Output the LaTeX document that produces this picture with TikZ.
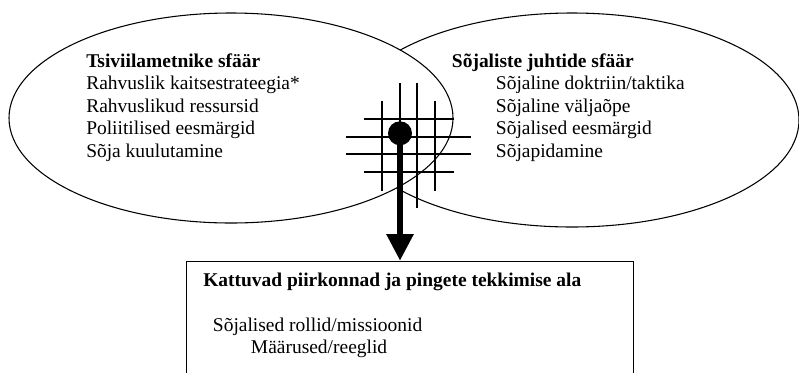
\documentclass[tikz,border=0pt]{standalone}
\usepackage{fontspec}
\setmainfont{Liberation Serif}
\usetikzlibrary{arrows.meta, positioning, shapes.geometric}

\begin{document}
\begin{tikzpicture}[
        x=0.75pt, y=-0.75pt,
        every node/.style={inner sep=0pt, font=\fontsize{14.6}{18}\selectfont},
        sphere/.style={draw, ellipse, line width=0.8pt},
        line/.style={anchor=base west},
        head/.style={anchor=base west, font=\fontsize{14.6}{18}\selectfont\bfseries},
        hatch/.style={line width=1pt},
        >={Triangle[length=20pt, width=19.5pt]} % Big solid head for the down arrow
    ]
        \useasboundingbox (0,0) rectangle (799,372);
        \clip (0,0) rectangle (799,372);

        % Define the two spheres (right one first, the left one is laid over it)
        \node (mil) [sphere, minimum width=340.5pt, minimum height=160.5pt] at (572,120) {};
        \node (civ) [sphere, fill=white, minimum width=333pt, minimum height=157.5pt] at (231,118) {};

        % Civilian sphere text
        \node (civt) [head] at (86,67) {Tsiviilametnike sfäär};
        \foreach \txt [count=\k] in {{Rahvuslik kaitsestrateegia*}, {Rahvuslikud ressursid}, {Poliitilised eesmärgid}, {Sõja kuulutamine}}
            \node (civ\k) [line] at (86,67+22.5*\k) {\txt};

        % Military sphere text
        \node (milt) [head] at (451.7,67) {Sõjaliste juhtide sfäär};
        \foreach \txt [count=\k] in {{Sõjaline doktriin/taktika}, {Sõjaline väljaõpe}, {Sõjalised eesmärgid}, {Sõjapidamine}}
            \node (mil\k) [line] at (495.7,67+22.5*\k) {\txt};

        % The hatched crossing where the spheres overlap
        \coordinate (hub) at (408.5,145.5);
        \foreach \d/\l in {-26.5/45, -8.5/62.5, 8.5/62.5, 26.5/45} {
            \draw[hatch] (hub) ++(\d,-\l) -- ++(0,2*\l);
            \draw[hatch] (hub) ++(-\l,\d) -- ++(2*\l,0);
        }

        % The dot and the box below
        \node (dot) [circle, fill, minimum size=18pt] at (400,133.3) {};
        \node (zone) [draw, line width=1.1pt, anchor=north west, minimum width=335pt, minimum height=120pt] at (186,260.7) {};
        \node (zonet) [head] at (203,286.7) {Kattuvad piirkonnad ja pingete tekkimise ala};
        \node (zone1) [line] at (212.7,331.7) {Sõjalised rollid/missioonid};
        \node (zone2) [line] at (250.7,353) {Määrused/reeglid};

        % Draw the thick arrow from the dot down into the box
        \draw[->, line width=4.5pt] (dot.center) -- (dot |- zone.north);

    \end{tikzpicture}
\end{document}
